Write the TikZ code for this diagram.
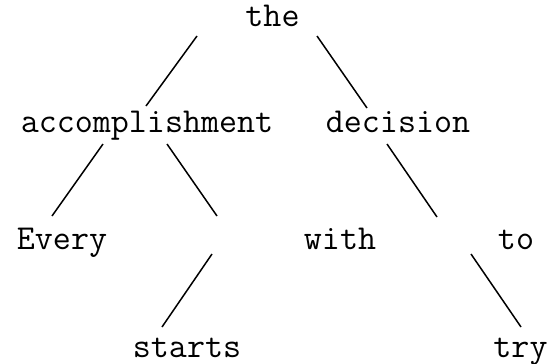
\documentclass[tikz,border=0pt]{standalone}
\usepackage{fontspec}
\begin{document}
\begin{tikzpicture}[x=1pt,y=-1pt,
  word/.style={anchor=base,inner sep=0pt,font=\ttfamily\fontsize{35}{35}\selectfont},
  edge/.style={line width=1.5pt,line cap=butt}]
\useasboundingbox (0,0) rectangle (552,364);
% words
\node[word] (the) at (272.5,26) {the};
\node[word] (acc) at (147,132) {accomplishment};
\node[word] (dec) at (398,132) {decision};
\node[word] (every) at (62,249) {Every};
\node[word] (with) at (340,249) {with};
\node[word] (to) at (516,249) {to};
\node[word] (starts) at (187,357) {starts};
\node[word] (try) at (520.5,357) {try};
% connector ends
\coordinate (a1) at (197,36);  \coordinate (a2) at (146,106);
\coordinate (b1) at (317,36);  \coordinate (b2) at (367,108);
\coordinate (c1) at (103,144); \coordinate (c2) at (52,216);
\coordinate (d1) at (167,144); \coordinate (d2) at (217,216);
\coordinate (e1) at (212,254); \coordinate (e2) at (162,327);
\coordinate (f1) at (387,144); \coordinate (f2) at (437,217);
\coordinate (g1) at (471,254); \coordinate (g2) at (521,327);
\draw[edge] (a1) -- (a2);
\draw[edge] (b1) -- (b2);
\draw[edge] (c1) -- (c2);
\draw[edge] (d1) -- (d2);
\draw[edge] (e1) -- (e2);
\draw[edge] (f1) -- (f2);
\draw[edge] (g1) -- (g2);
\end{tikzpicture}
\end{document}
